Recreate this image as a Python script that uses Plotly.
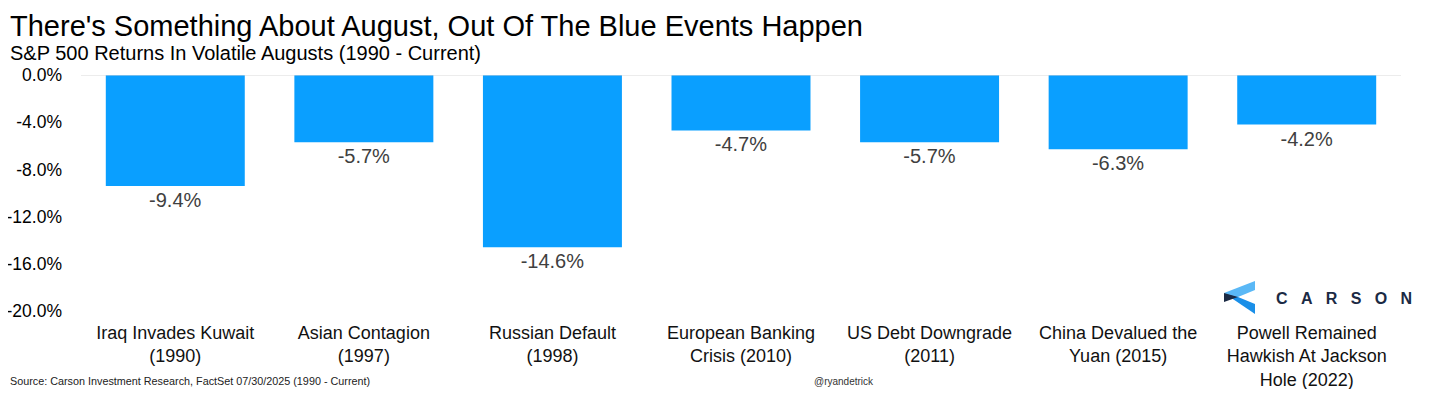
import plotly.graph_objects as go

categories = [
    "Iraq Invades Kuwait<br>(1990)",
    "Asian Contagion<br>(1997)",
    "Russian Default<br>(1998)",
    "European Banking<br>Crisis (2010)",
    "US Debt Downgrade<br>(2011)",
    "China Devalued the<br>Yuan (2015)",
    "Powell Remained<br>Hawkish At Jackson<br>Hole (2022)",
]
returns = [-9.4, -5.7, -14.6, -4.7, -5.7, -6.3, -4.2]
y_tick_vals = [0, -4, -8, -12, -16, -20]
y_tick_text = ["0.0%", "-4.0%", "-8.0%", "-12.0%", "-16.0%", "-20.0%"]

# The page body has an 8px margin, so the figure is drawn 8px smaller on each
# side and all positions below are given in screen pixels.
OFF = 8
W, H = 1430 - 2 * OFF, 397 - 2 * OFF
L, R, T, B = 81, 1401, 75, 311  # plot area in screen pixels


def px(x):
    return (x - L) / (R - L)


def py(y):
    return (B - y) / (B - T)


FONT = "Liberation Sans, Arial, sans-serif"

fig = go.Figure(
    go.Bar(
        x=categories,
        y=returns,
        marker=dict(color="#0A9FFF", line=dict(width=0)),
        text=[f"{v:.1f}%" for v in returns],
        textposition="outside",
        textfont=dict(family=FONT, size=20, color="#404040"),
        cliponaxis=False,
        width=0.737,
    )
)

NB = "\u00a0" * 3
shapes = [
    # logo chevron - top band (light blue)
    dict(type="path", xref="paper", yref="paper",
         path=f"M {px(1224)} {py(293)} L {px(1255)} {py(281)} L {px(1255)} {py(290)} L {px(1238)} {py(297)} Z",
         fillcolor="#5ab8f6", line=dict(width=0)),
    # bottom band (bright blue)
    dict(type="path", xref="paper", yref="paper",
         path=f"M {px(1224)} {py(293)} L {px(1238)} {py(297)} L {px(1255)} {py(304)} L {px(1255)} {py(314)} Z",
         fillcolor="#1a8fe8", line=dict(width=0)),
    # dark triangle
    dict(type="path", xref="paper", yref="paper",
         path=f"M {px(1224)} {py(293)} L {px(1238)} {py(297)} L {px(1224)} {py(302)} Z",
         fillcolor="#1b2a44", line=dict(width=0)),
]

annotations = [
    dict(text="There's Something About August, Out Of The Blue Events Happen",
         xref="paper", yref="paper", x=px(9), y=py(9), xanchor="left", yanchor="top",
         showarrow=False, borderpad=0, font=dict(family=FONT, size=29, color="#000000")),
    dict(text="S&P 500 Returns In Volatile Augusts (1990 - Current)",
         xref="paper", yref="paper", x=px(9), y=py(53), xanchor="left", yanchor="middle",
         showarrow=False, borderpad=0, font=dict(family=FONT, size=20, color="#000000")),
    dict(text="Source: Carson Investment Research, FactSet 07/30/2025 (1990 - Current)",
         xref="paper", yref="paper", x=px(9), y=py(381), xanchor="left", yanchor="middle",
         showarrow=False, borderpad=0, font=dict(family=FONT, size=10.8, color="#222222")),
    dict(text="@ryandetrick",
         xref="paper", yref="paper", x=px(844), y=py(381), xanchor="center", yanchor="middle",
         showarrow=False, font=dict(family=FONT, size=10, color="#333333")),
    dict(text=NB.join("CARSON"),
         xref="paper", yref="paper", x=px(1344), y=py(298), xanchor="center", yanchor="middle",
         showarrow=False, font=dict(family=FONT, size=16, color="#1b2a44", weight=600)),
]

fig.update_layout(
    width=W, height=H,
    margin=dict(l=L - OFF, r=W - (R - OFF), t=T - OFF, b=H - (B - OFF), pad=0),
    paper_bgcolor="white", plot_bgcolor="white",
    showlegend=False,
    shapes=shapes,
    annotations=annotations,
    font=dict(family=FONT),
)
fig.update_yaxes(
    range=[-20, 0], tickvals=y_tick_vals, ticktext=y_tick_text,
    showgrid=False, zeroline=False, showline=False, automargin=False,
    tickfont=dict(family=FONT, size=17.5, color="#000000"),
    ticklabelstandoff=18,
)
fig.update_xaxes(
    showgrid=False, showline=False, automargin=False,
    tickfont=dict(family=FONT, size=18, color="#111111"),
    ticklabelstandoff=9,
)
fig.add_hline(y=0, line=dict(color="#d9d9d9", width=1))

fig.write_html("out.html")
